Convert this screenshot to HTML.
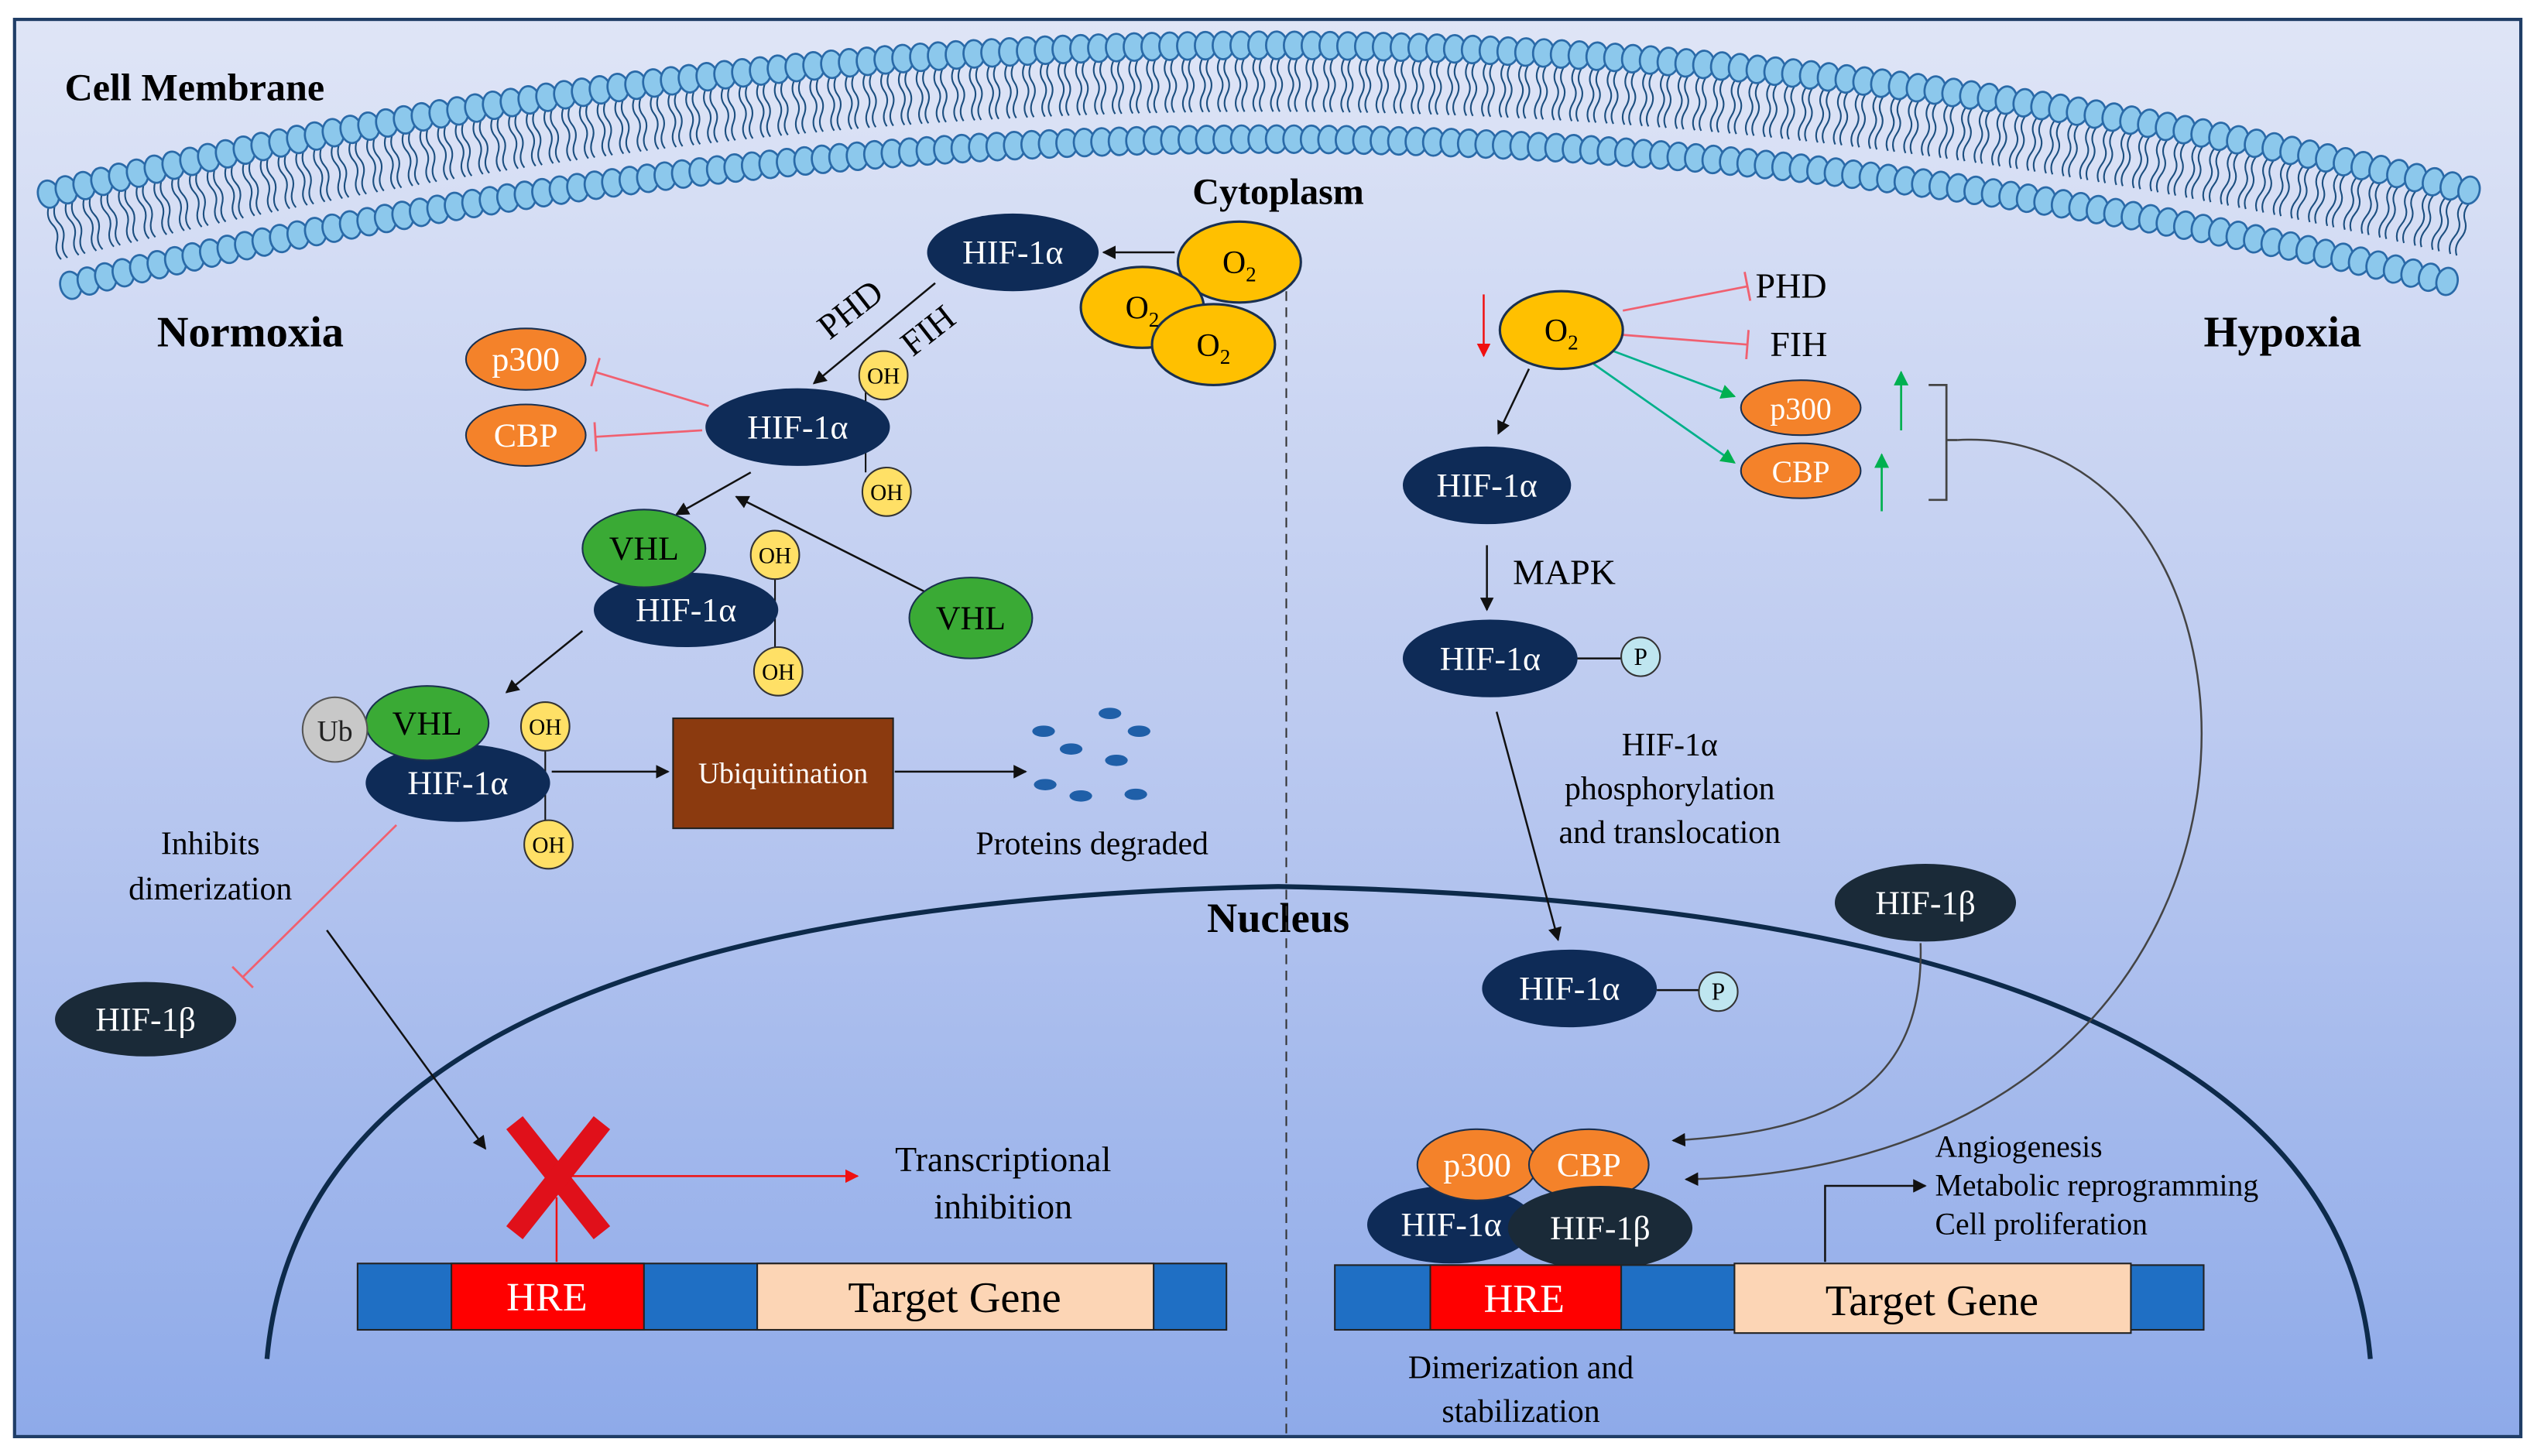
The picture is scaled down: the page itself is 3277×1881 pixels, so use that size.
<!DOCTYPE html>
<html><head><meta charset="utf-8"><style>
html,body{margin:0;padding:0;background:#fff;}
svg{display:block;font-family:"Liberation Serif","Times New Roman",serif;}
svg text{font-family:"Liberation Serif","Times New Roman",serif;}
</style></head><body>
<svg id="s" width="3277" height="1881" viewBox="0 0 1568 900" preserveAspectRatio="none" xmlns="http://www.w3.org/2000/svg" font-family="Liberation Serif, serif">
<defs>
<linearGradient id="bg" x1="0" y1="0" x2="0" y2="1">
<stop offset="0" stop-color="#dfe5f6"/><stop offset="0.5" stop-color="#bccaf0"/><stop offset="1" stop-color="#8eaae9"/>
</linearGradient>
<marker id="ak" viewBox="0 0 10 10" refX="9" refY="5" markerWidth="7" markerHeight="7" orient="auto"><path d="M0,0L10,5L0,10z" fill="#111"/></marker>
<marker id="ar" viewBox="0 0 10 10" refX="9" refY="5" markerWidth="7" markerHeight="7" orient="auto"><path d="M0,0L10,5L0,10z" fill="#f01010"/></marker>
<marker id="ag" viewBox="0 0 10 10" refX="9" refY="5" markerWidth="7" markerHeight="7" orient="auto"><path d="M0,0L10,5L0,10z" fill="#00b050"/></marker>
<marker id="tr" viewBox="0 0 4 20" refX="2" refY="10" markerWidth="4" markerHeight="14" orient="auto"><path d="M2,0L2,20" stroke="#f06070" stroke-width="1.5"/></marker>
</defs>
<rect x="0" y="0" width="1568" height="900" fill="#fff"/>
<rect x="9" y="12" width="1549" height="876" fill="url(#bg)" stroke="#1f3d66" stroke-width="2"/>
<g id="mem"></g>
<g font-weight="bold" fill="#000">
<text x="40" y="62" font-size="24">Cell Membrane</text>
<text x="790" y="126" font-size="23" text-anchor="middle">Cytoplasm</text>
<text x="97" y="214" font-size="27">Normoxia</text>
<text x="1362" y="214" font-size="27">Hypoxia</text>
<text x="790" y="576" font-size="26" text-anchor="middle">Nucleus</text>
</g>
<line x1="795" y1="150" x2="795" y2="886" stroke="#333" stroke-width="1" stroke-dasharray="6,4"/>
<path d="M165,840 Q190,560 790,548 Q1440,560 1465,840" fill="none" stroke="#0d2a4a" stroke-width="3"/>

<g stroke="#111" stroke-width="1.2" fill="none">
<line x1="726" y1="156" x2="682" y2="156" marker-end="url(#ak)"/>
<line x1="578" y1="175" x2="503" y2="237" marker-end="url(#ak)"/>
<line x1="464" y1="292" x2="418" y2="318" marker-end="url(#ak)"/>
<line x1="580" y1="370" x2="455" y2="307" marker-end="url(#ak)"/>
<line x1="360" y1="390" x2="313" y2="428" marker-end="url(#ak)"/>
<line x1="341" y1="477" x2="413" y2="477" marker-end="url(#ak)"/>
<line x1="553" y1="477" x2="634" y2="477" marker-end="url(#ak)"/>
<line x1="202" y1="575" x2="300" y2="710" marker-end="url(#ak)"/>
<line x1="535" y1="233" x2="535" y2="292" stroke-width="1"/>
<line x1="479" y1="357" x2="479" y2="402" stroke-width="1"/>
<line x1="337" y1="463" x2="337" y2="508" stroke-width="1"/>
</g>
<g stroke="#f06070" stroke-width="1.3">
<line x1="438" y1="251" x2="368" y2="230" marker-end="url(#tr)"/>
<line x1="434" y1="266" x2="368" y2="270" marker-end="url(#tr)"/>
<line x1="245" y1="510" x2="150" y2="604" marker-end="url(#tr)"/>
</g>
<text x="530" y="197" font-size="22" transform="rotate(-38 530 197)" text-anchor="middle">PHD</text>
<text x="578" y="210" font-size="22" transform="rotate(-38 578 210)" text-anchor="middle">FIH</text>

<g font-size="21" text-anchor="middle" fill="#fff">
<ellipse cx="626" cy="156" rx="53" ry="24" fill="#0e2b57"/><text x="626" y="163">HIF-1α</text>
<ellipse cx="493" cy="264" rx="57" ry="24" fill="#0e2b57"/><text x="493" y="271">HIF-1α</text>
<ellipse cx="325" cy="222" rx="37" ry="19" fill="#f4822a" stroke="#1a3050"/><text x="325" y="229">p300</text>
<ellipse cx="325" cy="269" rx="37" ry="19" fill="#f4822a" stroke="#1a3050"/><text x="325" y="276">CBP</text>
<ellipse cx="424" cy="377" rx="57" ry="23" fill="#0e2b57"/><text x="424" y="384">HIF-1α</text>
<ellipse cx="398" cy="339" rx="38" ry="24" fill="#3aaa35" stroke="#1a3050"/><text x="398" y="346" fill="#000">VHL</text>
<ellipse cx="600" cy="382" rx="38" ry="25" fill="#3aaa35" stroke="#1a3050"/><text x="600" y="389" fill="#000">VHL</text>
<ellipse cx="283" cy="484" rx="57" ry="24" fill="#0e2b57"/><text x="283" y="491">HIF-1α</text>
<ellipse cx="264" cy="447" rx="38" ry="23" fill="#3aaa35" stroke="#1a3050"/><text x="264" y="454" fill="#000">VHL</text>
<circle cx="207" cy="451" r="20" fill="#c8c8c8" stroke="#555"/><text x="207" y="458" fill="#222" font-size="18">Ub</text>
<ellipse cx="90" cy="630" rx="56" ry="23" fill="#1a2a38"/><text x="90" y="637">HIF-1β</text>
</g>
<g fill="#ffc000" stroke="#1a3050" stroke-width="1.5">
<ellipse cx="766" cy="162" rx="38" ry="25"/><ellipse cx="706" cy="190" rx="38" ry="25"/><ellipse cx="750" cy="213" rx="38" ry="25"/>
</g>
<g font-size="20" text-anchor="middle">
<text x="766" y="169">O<tspan font-size="13" dy="5">2</tspan></text>
<text x="706" y="197">O<tspan font-size="13" dy="5">2</tspan></text>
<text x="750" y="220">O<tspan font-size="13" dy="5">2</tspan></text>
</g>
<g fill="#ffe066" stroke="#333" stroke-width="1">
<circle cx="546" cy="232" r="15"/><circle cx="548" cy="304" r="15"/><circle cx="479" cy="343" r="15"/><circle cx="481" cy="415" r="15"/><circle cx="337" cy="449" r="15"/><circle cx="339" cy="522" r="15"/>
</g>
<g font-size="14" text-anchor="middle">
<text x="546" y="237">OH</text><text x="548" y="309">OH</text><text x="479" y="348">OH</text><text x="481" y="420">OH</text><text x="337" y="454">OH</text><text x="339" y="527">OH</text>
</g>
<rect x="416" y="444" width="136" height="68" fill="#8b3a0f" stroke="#222"/>
<text x="484" y="484" font-size="18" fill="#fff" text-anchor="middle">Ubiquitination</text>
<g fill="#1f5fa8">
<ellipse cx="686" cy="441" rx="7" ry="3.5"/><ellipse cx="645" cy="452" rx="7" ry="3.5"/><ellipse cx="704" cy="452" rx="7" ry="3.5"/><ellipse cx="662" cy="463" rx="7" ry="3.5"/><ellipse cx="690" cy="470" rx="7" ry="3.5"/><ellipse cx="646" cy="485" rx="7" ry="3.5"/><ellipse cx="668" cy="492" rx="7" ry="3.5"/><ellipse cx="702" cy="491" rx="7" ry="3.5"/>
</g>
<g font-size="20" text-anchor="middle">
<text x="675" y="528">Proteins degraded</text>
<text x="130" y="528">Inhibits</text><text x="130" y="556">dimerization</text>
<text x="620" y="724" font-size="22">Transcriptional</text><text x="620" y="753" font-size="22">inhibition</text>
</g>
<line x1="344" y1="740" x2="344" y2="780" stroke="#f01010" stroke-width="1.2"/>
<line x1="344" y1="727" x2="530" y2="727" stroke="#f01010" stroke-width="1.2" marker-end="url(#ar)"/>
<g stroke="#e0101a" stroke-width="13"><line x1="318" y1="694" x2="372" y2="762"/><line x1="372" y1="694" x2="318" y2="762"/></g>
<rect x="221" y="781" width="537" height="41" fill="#1f6fc4" stroke="#222"/>
<rect x="279" y="781" width="119" height="41" fill="#ff0000" stroke="#222"/>
<text x="338" y="810" font-size="25" fill="#fff" text-anchor="middle">HRE</text>
<rect x="468" y="781" width="245" height="41" fill="#fcd5b5" stroke="#222"/>
<text x="590" y="811" font-size="27" text-anchor="middle">Target Gene</text>

<g stroke="#f06070" stroke-width="1.3">
<line x1="1003" y1="192" x2="1080" y2="177" marker-end="url(#tr)"/>
<line x1="1003" y1="207" x2="1080" y2="213" marker-end="url(#tr)"/>
</g>
<line x1="917" y1="182" x2="917" y2="220" stroke="#f01010" stroke-width="1.2" marker-end="url(#ar)"/>
<g stroke="#00b08a" stroke-width="1.3">
<line x1="997" y1="217" x2="1072" y2="245" marker-end="url(#ag)"/>
<line x1="985" y1="225" x2="1072" y2="286" marker-end="url(#ag)"/>
</g>
<g stroke="#00b050" stroke-width="1.3">
<line x1="1175" y1="266" x2="1175" y2="230" marker-end="url(#ag)"/>
<line x1="1163" y1="316" x2="1163" y2="281" marker-end="url(#ag)"/>
</g>
<path d="M1192,238 L1203,238 L1203,272 L1210,272 M1203,272 L1203,309 L1192,309" fill="none" stroke="#444" stroke-width="1.3"/>
<path d="M1210,272 C1420,260 1450,720 1042,729" fill="none" stroke="#444" stroke-width="1.2" marker-end="url(#ak)"/>
<path d="M1187,583 C1190,680 1120,700 1034,705" fill="none" stroke="#444" stroke-width="1.2" marker-end="url(#ak)"/>
<g stroke="#111" stroke-width="1.2">
<line x1="945" y1="228" x2="926" y2="268" marker-end="url(#ak)"/>
<line x1="919" y1="337" x2="919" y2="377" marker-end="url(#ak)"/>
<line x1="925" y1="440" x2="963" y2="581" marker-end="url(#ak)"/>
<line x1="973" y1="407" x2="1002" y2="407"/>
<line x1="1024" y1="612" x2="1050" y2="612"/>
<polyline points="1128,780 1128,733 1190,733" fill="none" marker-end="url(#ak)"/>
</g>
<g font-size="22" text-anchor="start">
<text x="1085" y="184">PHD</text><text x="1094" y="220">FIH</text>
<text x="935" y="361">MAPK</text>
</g>
<g font-size="20" text-anchor="middle">
<text x="1032" y="467">HIF-1α</text><text x="1032" y="494">phosphorylation</text><text x="1032" y="521">and translocation</text>
<text x="940" y="852">Dimerization and</text><text x="940" y="879">stabilization</text>
</g>
<g font-size="19">
<text x="1196" y="715">Angiogenesis</text><text x="1196" y="739">Metabolic reprogramming</text><text x="1196" y="763">Cell proliferation</text>
</g>
<ellipse cx="965" cy="204" rx="38" ry="24" fill="#ffc000" stroke="#1a3050" stroke-width="1.5"/>
<text x="965" y="211" font-size="20" text-anchor="middle">O<tspan font-size="13" dy="5">2</tspan></text>
<g font-size="21" text-anchor="middle" fill="#fff">
<ellipse cx="1113" cy="252" rx="37" ry="17" fill="#f4822a" stroke="#1a3050"/><text x="1113" y="259" font-size="19">p300</text>
<ellipse cx="1113" cy="291" rx="37" ry="17" fill="#f4822a" stroke="#1a3050"/><text x="1113" y="298" font-size="19">CBP</text>
<ellipse cx="919" cy="300" rx="52" ry="24" fill="#0e2b57"/><text x="919" y="307">HIF-1α</text>
<ellipse cx="921" cy="407" rx="54" ry="24" fill="#0e2b57"/><text x="921" y="414">HIF-1α</text>
<ellipse cx="970" cy="611" rx="54" ry="24" fill="#0e2b57"/><text x="970" y="618">HIF-1α</text>
<ellipse cx="1190" cy="558" rx="56" ry="24" fill="#1a2a38"/><text x="1190" y="565">HIF-1β</text>
<ellipse cx="897" cy="757" rx="52" ry="24" fill="#0e2b57"/><text x="897" y="764">HIF-1α</text>
<ellipse cx="913" cy="720" rx="37" ry="22" fill="#f4822a" stroke="#1a3050"/><text x="913" y="727">p300</text>
<ellipse cx="982" cy="720" rx="37" ry="22" fill="#f4822a" stroke="#1a3050"/><text x="982" y="727">CBP</text>
<ellipse cx="989" cy="759" rx="57" ry="26" fill="#1a2a38"/><text x="989" y="766">HIF-1β</text>
</g>
<g fill="#bfe6f0" stroke="#333"><circle cx="1014" cy="406" r="12"/><circle cx="1062" cy="613" r="12"/></g>
<g font-size="15" text-anchor="middle"><text x="1014" y="411">P</text><text x="1062" y="618">P</text></g>
<rect x="825" y="782" width="537" height="40" fill="#1f6fc4" stroke="#222"/>
<rect x="884" y="782" width="118" height="40" fill="#ff0000" stroke="#222"/>
<text x="942" y="811" font-size="25" fill="#fff" text-anchor="middle">HRE</text>
<rect x="1072" y="781" width="245" height="43" fill="#fcd5b5" stroke="#222"/>
<text x="1194" y="813" font-size="27" text-anchor="middle">Target Gene</text>
</svg>
<script>
(function(){
var g=document.getElementById('mem'),h='';
for(var x=30;x<=1536;x+=11){
 var u=(x-783)/753, yt=120-92*(1-u*u), sl=2*92*u/753; var ang=Math.atan(sl)*180/Math.PI;
 h+='<g transform="translate('+x+','+yt+') rotate('+ang+')">'+
 '<path d="M-2,8 q-3,6 0,11 t0,11 t0,11 M2,8 q-3,6 0,11 t0,11 t0,11" fill="none" stroke="#1c4f80" stroke-width="1"/>'+
 '<ellipse cx="0" cy="0" rx="6.5" ry="8.5" fill="#8cc8ec" stroke="#2a6aa8" stroke-width="1.3"/>'+
 '<ellipse cx="0" cy="58" rx="6.5" ry="8.5" fill="#8cc8ec" stroke="#2a6aa8" stroke-width="1.3"/></g>';
}
g.innerHTML=h;
})();
</script>
</body></html>
